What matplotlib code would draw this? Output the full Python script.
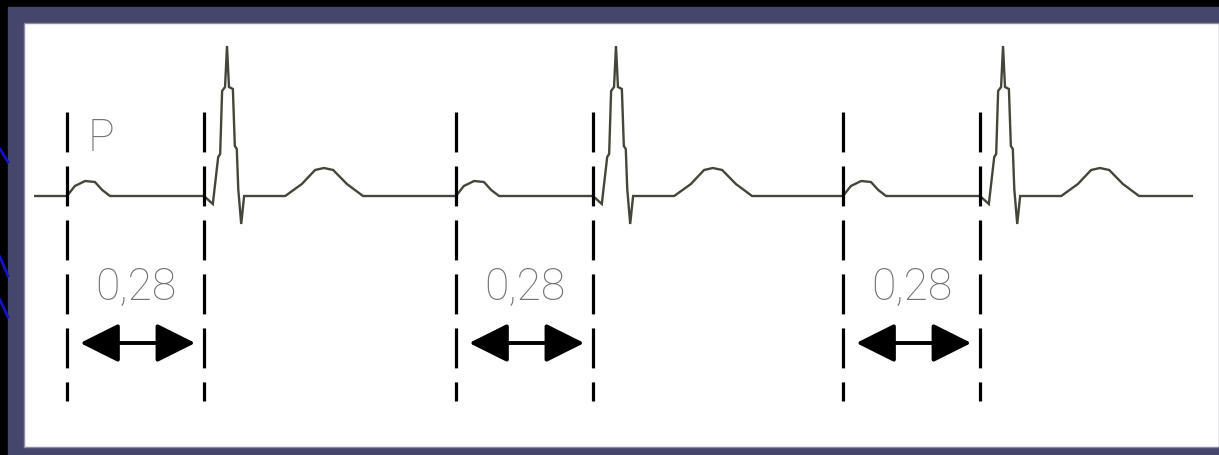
import matplotlib
matplotlib.use("Agg")
import matplotlib.pyplot as plt
from matplotlib.patches import Rectangle, FancyArrowPatch

# dados do traçado: um batimento, tempo (s) a partir do início da onda P, amplitude (mV)
beat_t = [0.000, 0.016, 0.037, 0.057, 0.072, 0.088,
          0.280, 0.298, 0.309, 0.313, 0.317, 0.323, 0.327, 0.331, 0.339,
          0.343, 0.347, 0.350, 0.356, 0.362,
          0.446, 0.480, 0.507, 0.525, 0.544, 0.572, 0.605]
beat_mv = [0.00, 0.10, 0.15, 0.14, 0.06, 0.00,
           0.00, -0.08, 0.39, 0.42, 1.05, 1.09, 1.50, 1.09, 1.07,
           0.50, 0.47, 0.07, -0.28, 0.00,
           0.00, 0.12, 0.26, 0.28, 0.26, 0.12, 0.00]
onsets = [0.0, 0.795, 1.586]          # início de cada onda P (s)
pr_interval = 0.28                    # intervalo PR (s)
pr_label = "0,28"
p_label = "P"
trace_start, trace_end = -0.065, 2.299

# layout (pixels da imagem)
W, H = 1219, 456
X0, Y0 = 67, 197          # posição de t=0 e da linha de base
PX_S, PX_MV = 489.3, 100.0
FONT = dict(fontsize=32, color="#747474", family="Roboto", fontweight="light")


def main():
    fig = plt.figure(figsize=(W / 100, H / 100), dpi=100)
    fig.patch.set_facecolor("black")

    # moldura
    bg = fig.add_axes([0, 0, 1, 1])
    bg.set_xlim(0, W)
    bg.set_ylim(H, 0)
    bg.axis("off")
    bg.add_patch(Rectangle((8, 8), W - 8, H - 8, color="#45466b"))
    bg.add_patch(Rectangle((24, 24), W - 24, 424, facecolor="white",
                           edgecolor="#8a8aaa", lw=1))
    for y1, y2 in [(150, 163), (258, 277), (301, 318)]:
        bg.plot([0, 8], [y1, y2], color="#1414c8", lw=2)

    # eixo do ECG em segundos / mV
    ax = fig.add_axes([0, 0, 1, 1])
    ax.patch.set_alpha(0)
    ax.set_xlim(-X0 / PX_S, (W - X0) / PX_S)
    ax.set_ylim((Y0 - H) / PX_MV, Y0 / PX_MV)
    ax.axis("off")

    xs, ys = [trace_start], [0.0]
    for t0 in onsets:
        xs += [t0 + t for t in beat_t]
        ys += beat_mv
    xs.append(trace_end)
    ys.append(0.0)
    ax.plot(xs, ys, color="#45453a", lw=1.7, solid_joinstyle="miter")

    for i, t0 in enumerate(onsets):
        for xv in (t0, t0 + pr_interval):
            ax.plot([xv, xv], [0.84, -2.05], color="black", lw=2.3,
                    linestyle=(0, (12.5, 4.4)))
        ax.text(t0 + pr_interval / 2, -0.91, pr_label, ha="center", va="center", **FONT)
        ax.add_patch(FancyArrowPatch((t0 + 0.027, -1.47), (t0 + 0.262, -1.47),
                                     arrowstyle="<|-|>,head_length=1.0,head_width=0.5",
                                     mutation_scale=24, color="black", lw=2.8,
                                     shrinkA=0, shrinkB=0))
        if i == 0:
            ax.text(t0 + 0.043, 0.58, p_label, ha="left", va="center", **FONT)

    fig.savefig("out.png", dpi=100, facecolor="black")
    plt.close(fig)


if __name__ == "__main__":
    main()
